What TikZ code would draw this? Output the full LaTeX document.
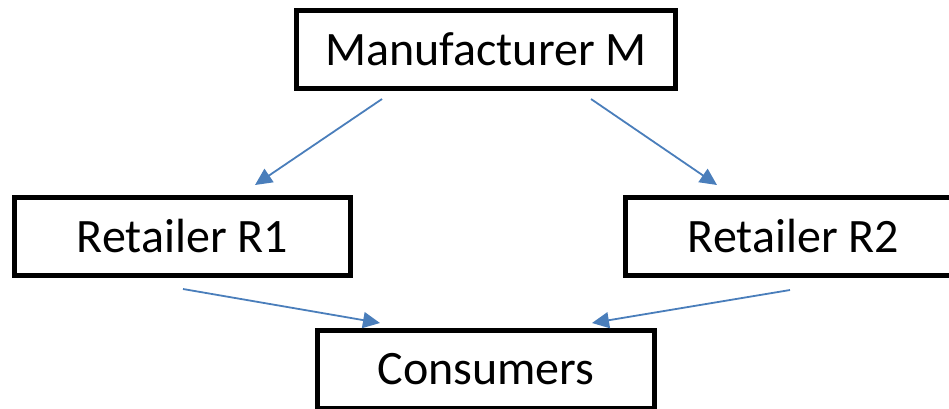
\documentclass[tikz,border=0pt]{standalone}
\usepackage{fontspec}
\setmainfont{Carlito}
\usetikzlibrary{arrows.meta}
\definecolor{arrowblue}{HTML}{4A7EBB}
\tikzset{
  box/.style={draw=black, line width=5pt, rectangle, inner sep=0pt,
    minimum height=78pt, font=\fontsize{48}{56}\selectfont},
  link/.style={draw=arrowblue, line width=1.8pt,
    -{Triangle[length=17pt,width=16pt]}}
}
\begin{document}
\begin{tikzpicture}[x=1pt,y=1pt]
\useasboundingbox (0,0) rectangle (949,408);
\clip (0,0) rectangle (949,408);
\node[box, minimum width=379pt] (m) at (486,358.5) {Manufacturer M};
\node[box, minimum width=336pt] (r1) at (182.5,171.5) {Retailer R1};
\node[box, minimum width=336pt] (r2) at (793.5,171.5) {Retailer R2};
\node[box, minimum width=337pt] (c) at (486,38.5) {Consumers};
\coordinate (m1) at (382,309);
\coordinate (m2) at (591,309);
\coordinate (t1) at (255,223);
\coordinate (t2) at (717,223);
\coordinate (r1s) at (183,119);
\coordinate (r2s) at (790,118);
\coordinate (c1) at (380,85);
\coordinate (c2) at (592,85);
\draw[link] (m1) -- (t1);
\draw[link] (m2) -- (t2);
\draw[link] (r1s) -- (c1);
\draw[link] (r2s) -- (c2);
\end{tikzpicture}
\end{document}
